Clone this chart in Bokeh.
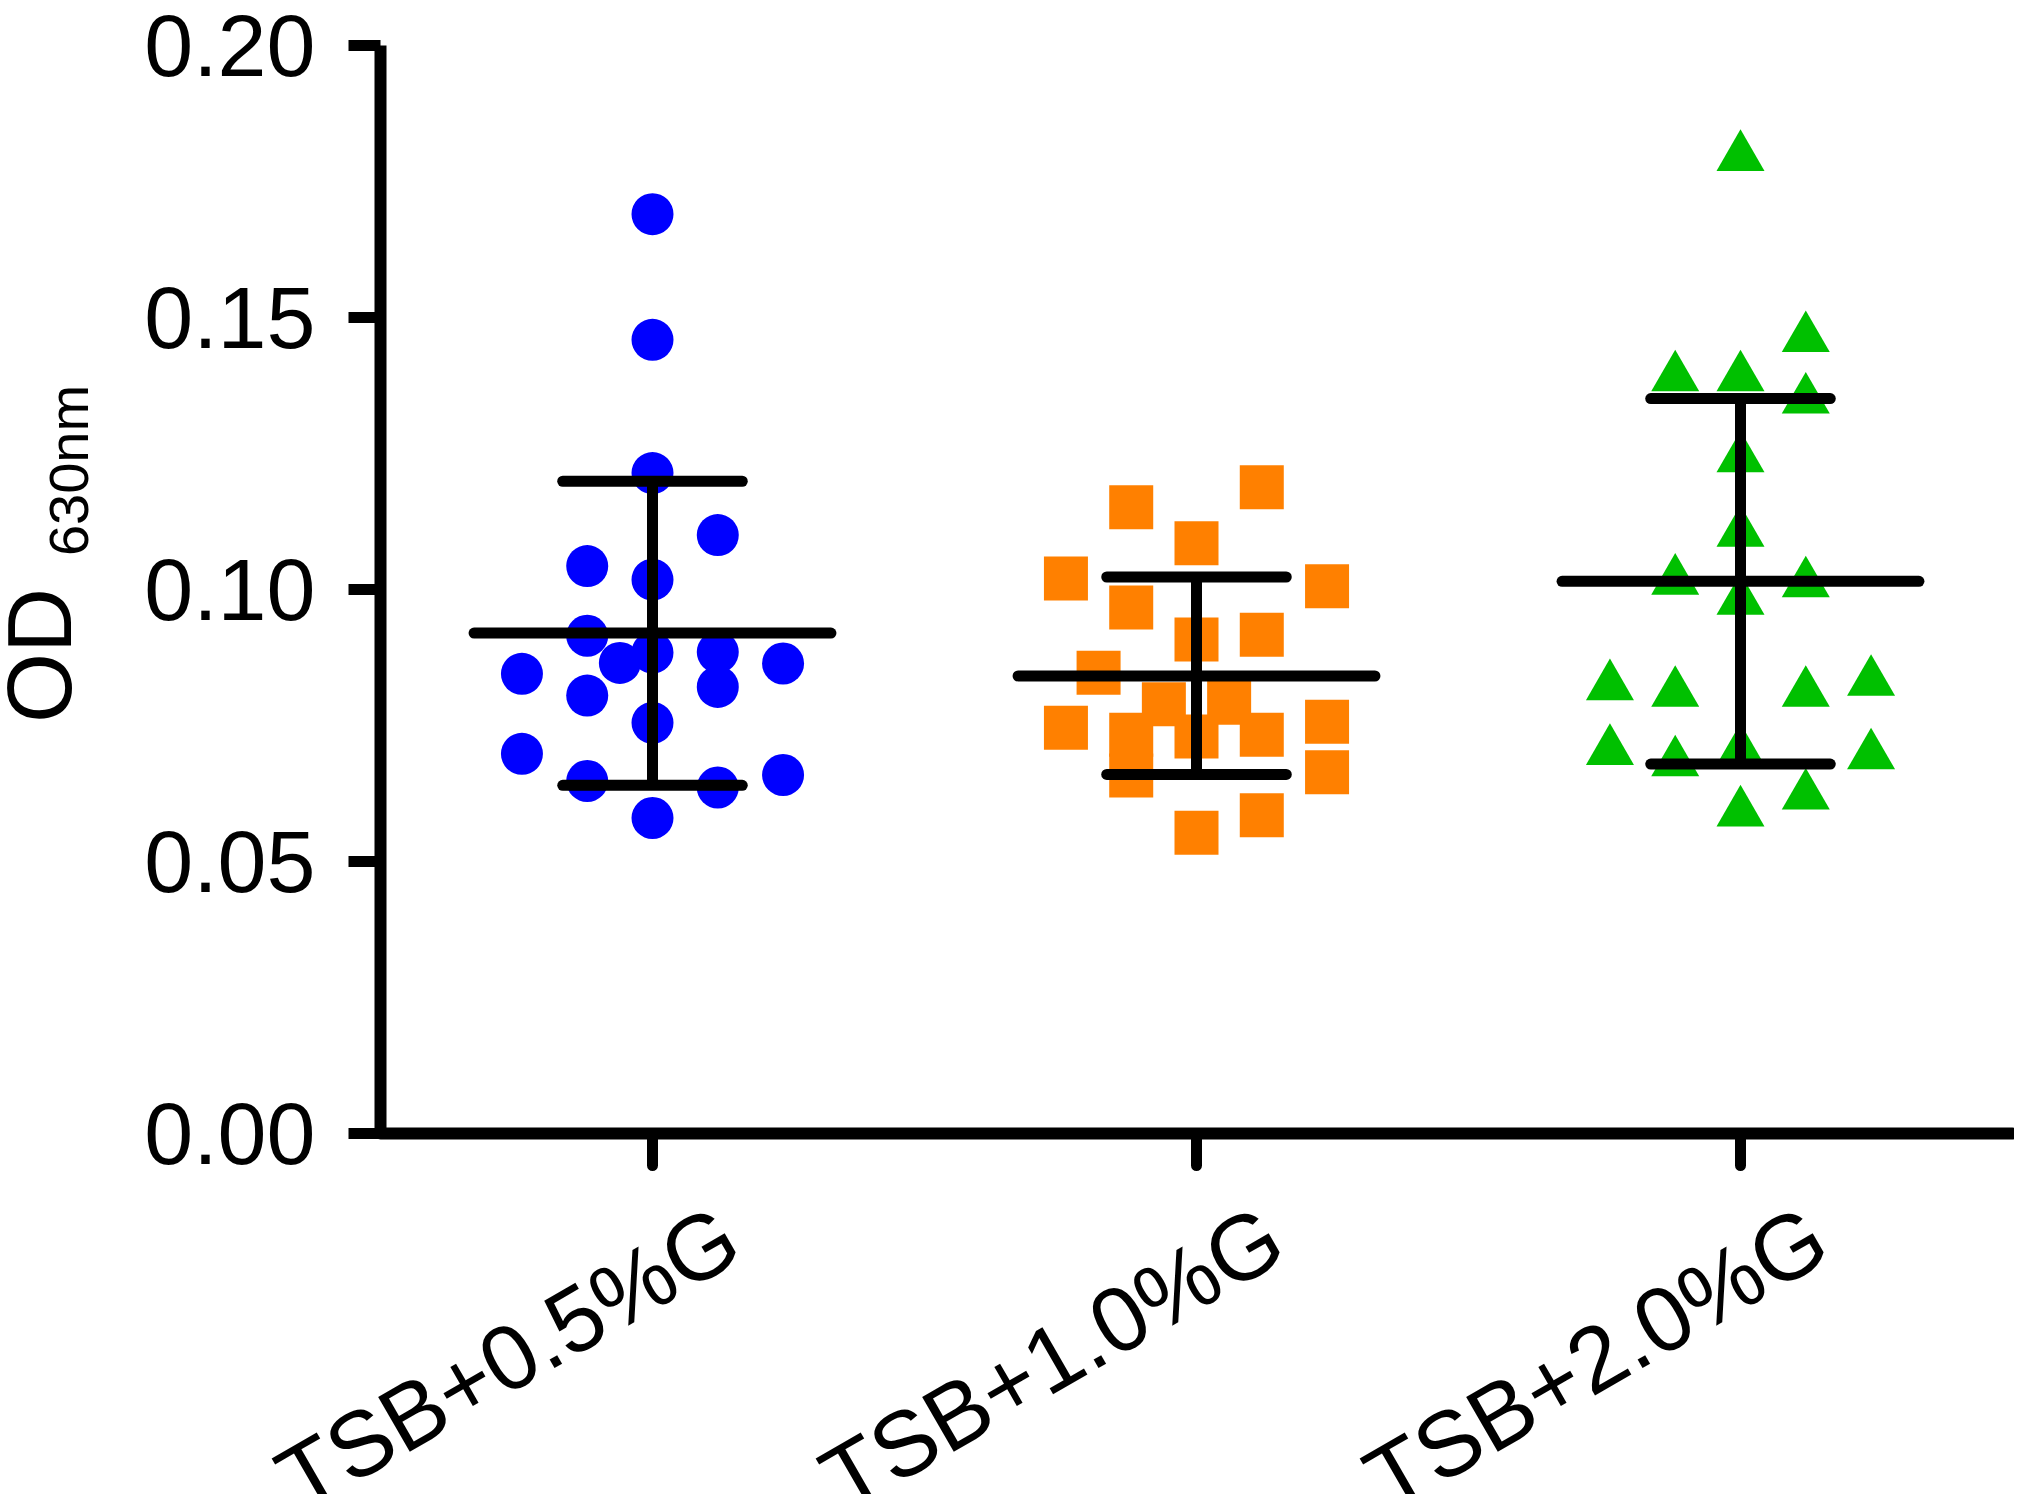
from bokeh.plotting import figure
from bokeh.models import Range1d, FixedTicker, Label, ColumnDataSource
from bokeh.embed import file_html
from bokeh.resources import INLINE

# ---------------- data ----------------
categories = ["TSB+0.5%G", "TSB+1.0%G", "TSB+2.0%G"]

g05_values = [0.1690, 0.1459, 0.1214, 0.1100, 0.1043, 0.1018, 0.0915, 0.0884, 0.0885, 0.0865,
              0.0864, 0.0845, 0.0821, 0.0805, 0.0755, 0.0698, 0.0648, 0.0636, 0.0659, 0.0580]
g05_slots = [0, 0, 0, 2, -2, 0, -2, 0, 2, -1, 4, -4, 2, -2, 0, -4, -2, 2, 4, 0]

g10_values = [0.1188, 0.1151, 0.1085, 0.1020, 0.1006, 0.0967, 0.0908, 0.0917, 0.0847, 0.0789,
              0.0792, 0.0746, 0.0733, 0.0730, 0.0733, 0.0757, 0.0658, 0.0664, 0.0585, 0.0553]
g10_slots = [2, -2, 0, -4, 4, -2, 0, 2, -3, -1, 1, -4, -2, 0, 2, 4, -2, 4, 2, 0]

g20_values = [0.1795, 0.1462, 0.1390, 0.1390, 0.1349, 0.1241, 0.1104, 0.1016, 0.1011, 0.0979,
              0.0822, 0.0810, 0.0810, 0.0830, 0.0703, 0.0682, 0.0703, 0.0695, 0.0590, 0.0621]
g20_slots = [0, 2, -2, 0, 2, 0, 0, -2, 2, 0, -4, -2, 2, 4, -4, -2, 0, 4, 0, 2]

means = [0.0920, 0.0841, 0.1015]
sd_high = [0.1199, 0.1023, 0.1351]
sd_low = [0.0640, 0.0660, 0.0679]

y_ticks = [0.00, 0.05, 0.10, 0.15, 0.20]
y_tick_labels = ["0.00", "0.05", "0.10", "0.15", "0.20"]
Y_MAX = 0.20

# ---------------- layout / styling constants ----------------
FONT = "Liberation Sans"
JITTER_STEP = 0.06
MEAN_HALF = 0.328
CAP_HALF = 0.165
LW = 11
AXIS_LW = 12

W, H = 2014, 1494
AX_LEFT, AX_RIGHT = 380, 2012      # pixel x of the y axis and of the x axis end
AX_TOP, AX_BOTTOM = 45, 1133       # pixel y of y=0.20 and of y=0
NCAT = len(categories)
sx = (AX_RIGHT - AX_LEFT) / NCAT   # pixels per category unit
sy = (AX_BOTTOM - AX_TOP) / Y_MAX  # pixels per y unit

x_range = Range1d(-AX_LEFT / sx, NCAT + (W - AX_RIGHT) / sx)
y_range = Range1d(-(H - AX_BOTTOM) / sy, Y_MAX + AX_TOP / sy)

p = figure(width=W, height=H, output_backend="svg", toolbar_location=None,
           x_range=x_range, y_range=y_range,
           min_border_left=0, min_border_right=0, min_border_top=0, min_border_bottom=0)
p.outline_line_color = None
p.grid.visible = False
p.background_fill_color = "white"
p.border_fill_color = "white"

centers = [i + 0.5 for i in range(NCAT)]

groups = [
    (g05_values, g05_slots, "circle", 42, "#0000FF"),
    (g10_values, g10_slots, "square", 44, "#FF8000"),
    (g20_values, g20_slots, "triangle", 48, "#00C000"),
]
for gi, (vals, slots, marker, size, color) in enumerate(groups):
    xs = [centers[gi] + s * JITTER_STEP for s in slots]
    src = ColumnDataSource(dict(x=xs, y=vals))
    p.scatter("x", "y", source=src, marker=marker, size=size,
              fill_color=color, line_color=None)

# mean and SD bars
bar_src = ColumnDataSource(dict(
    c=centers, m=means, hi=sd_high, lo=sd_low,
    m0=[c - MEAN_HALF for c in centers], m1=[c + MEAN_HALF for c in centers],
    c0=[c - CAP_HALF for c in centers], c1=[c + CAP_HALF for c in centers],
))
p.segment(x0="m0", x1="m1", y0="m", y1="m", source=bar_src,
          line_color="black", line_width=LW, line_cap="round")
p.segment(x0="c", x1="c", y0="lo", y1="hi", source=bar_src,
          line_color="black", line_width=LW, line_cap="butt")
p.segment(x0="c0", x1="c1", y0="hi", y1="hi", source=bar_src,
          line_color="black", line_width=LW, line_cap="round")
p.segment(x0="c0", x1="c1", y0="lo", y1="lo", source=bar_src,
          line_color="black", line_width=LW, line_cap="round")

# y axis, pinned at x = 0
ya = p.yaxis[0]
ya.fixed_location = 0
ya.bounds = (0, Y_MAX)
ya.ticker = FixedTicker(ticks=y_ticks)
ya.major_label_overrides = {t: l for t, l in zip(y_ticks, y_tick_labels)}
ya.axis_line_width = AXIS_LW
ya.axis_line_color = "black"
ya.major_tick_line_width = LW
ya.major_tick_out = 32
ya.major_tick_in = 0
ya.minor_tick_line_color = None
ya.major_label_text_font = FONT
ya.major_label_text_font_size = "88px"
ya.major_label_text_color = "black"
ya.major_label_standoff = 33

# x axis, pinned at y = 0
xa = p.xaxis[0]
xa.fixed_location = 0
xa.bounds = (0, NCAT)
xa.ticker = FixedTicker(ticks=centers)
xa.major_label_overrides = {c: "" for c in centers}
xa.axis_line_width = AXIS_LW
xa.axis_line_color = "black"
xa.axis_line_cap = "round"
xa.major_tick_line_width = LW
xa.major_tick_line_cap = "round"
xa.major_tick_out = 32
xa.major_tick_in = 0
xa.minor_tick_line_color = None

# rotated category labels
for c, name in zip(centers, categories):
    p.add_layout(Label(x=c, y=0, x_offset=78, y_offset=-96,
                       text=name, angle=30, angle_units="deg", text_align="right",
                       text_baseline="middle", text_font=FONT,
                       text_font_size="92px", text_color="black"))

# y axis title: OD with subscript 630nm
p.add_layout(Label(x=0, y=(AX_BOTTOM - 655) / sy, x_offset=39 - AX_LEFT, text="OD",
                   angle=90, angle_units="deg", text_align="center", text_baseline="middle",
                   text_font=FONT, text_font_size="90px", text_color="black"))
p.add_layout(Label(x=0, y=(AX_BOTTOM - 470) / sy, x_offset=68 - AX_LEFT, text="630nm",
                   angle=90, angle_units="deg", text_align="center", text_baseline="middle",
                   text_font=FONT, text_font_size="56px", text_color="black"))

open("out.html", "w").write(file_html(p, INLINE))
